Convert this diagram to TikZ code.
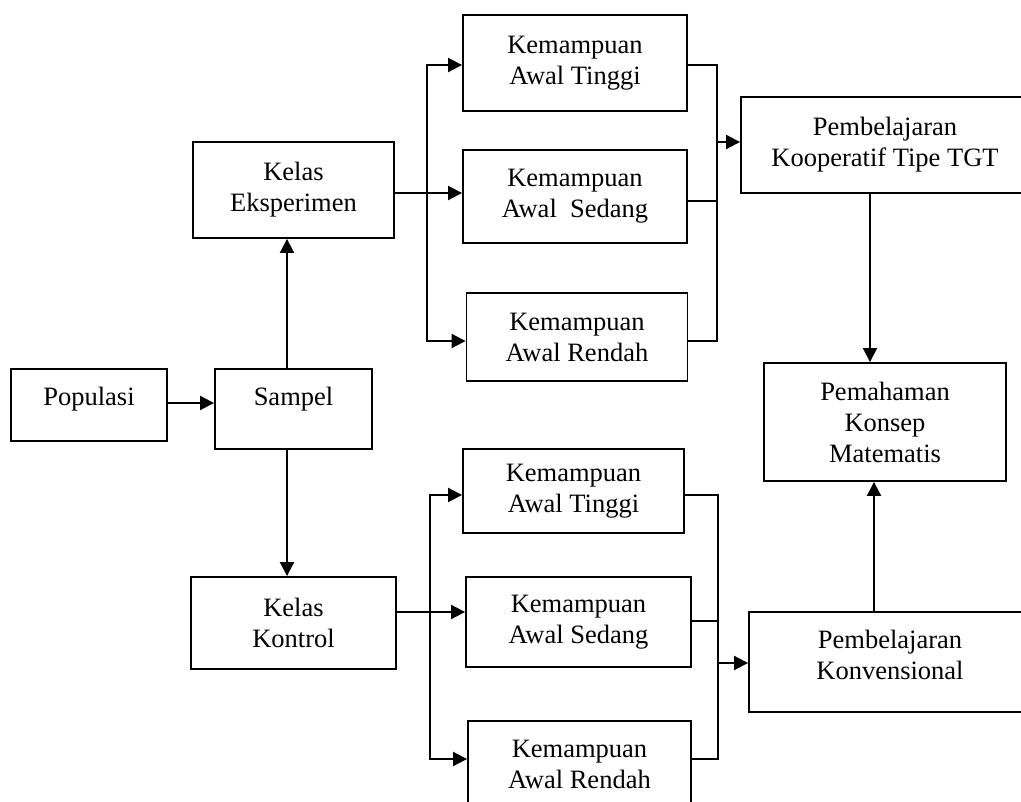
\documentclass[tikz,border=0pt]{standalone}
\usepackage{fontspec}
\setmainfont{Liberation Serif}
\usetikzlibrary{arrows.meta}
\begin{document}
\begin{tikzpicture}[x=1pt,y=-1pt,
  box/.style={draw, line width=1.9pt, align=center, inner sep=0pt, font=\fontsize{26.5}{31}\selectfont},
  conn/.style={line width=2pt},
  arr/.style={conn, -{Triangle[length=14pt,width=14pt]}},
  arrb/.style={conn, {Triangle[length=14pt,width=14pt]}-{Triangle[length=14pt,width=14pt]}}]
\useasboundingbox (0,0) rectangle (1021,802);
\clip (0,0) rectangle (1021,802);

% nodes
\node[box, minimum width=156pt, minimum height=72pt, text depth=18pt] (pop) at (89,405) {Populasi};
\node[box, minimum width=157pt, minimum height=80pt, text depth=26pt] (samp) at (293.5,409) {Sampel};
\node[box, minimum width=201pt, minimum height=96pt] (eks) at (293.5,190) {Kelas\\Eksperimen};
\node[box, minimum width=205pt, minimum height=92pt] (kon) at (293.5,623) {Kelas\\Kontrol};

\node[box, minimum width=224pt, minimum height=96pt] (katA) at (575,63) {Kemampuan\\Awal Tinggi};
\node[box, minimum width=224pt, minimum height=93pt] (kasA) at (575,196.5) {Kemampuan\\Awal\ \ Sedang};
\node[box, minimum width=221pt, minimum height=88pt] (karA) at (577,337) {Kemampuan\\Awal Rendah};

\node[box, minimum width=221pt, minimum height=84pt] (katB) at (573.5,491) {Kemampuan\\Awal Tinggi};
\node[box, minimum width=225pt, minimum height=90pt] (kasB) at (578.5,622) {Kemampuan\\Awal Sedang};
\node[box, minimum width=223pt, minimum height=86pt] (karB) at (579.5,764) {Kemampuan\\Awal Rendah};

\node[box, minimum width=288pt, minimum height=96pt] (tgt) at (885,145) {Pembelajaran\\Kooperatif Tipe TGT};
\node[box, minimum width=242pt, minimum height=118pt] (pem) at (885,422) {Pemahaman\\Konsep\\Matematis};
\node[box, minimum width=282pt, minimum height=100pt, text depth=14pt] (konv) at (890,662) {Pembelajaran\\Konvensional};

% left part
\draw[arr] ([yshift=2pt]pop.east) -- ([yshift=2pt]pop.east -| samp.west);
\draw[arr] ([xshift=-6.5pt]samp.north) -- ([xshift=-6.5pt]eks.south);
\draw[arr] ([xshift=-6.5pt]samp.south) -- ([xshift=-6.5pt]kon.north);

% top-left bracket
\coordinate (tl1) at (427,65);
\coordinate (tl2) at (427,341);
\draw[arrb] (tl1 -| katA.west) -- (tl1) -- (tl2) -- (tl2 -| karA.west);
\draw[arr] ([yshift=-3pt]eks.east) -- ([yshift=-3pt]eks.east -| kasA.west);

% top-right bracket
\coordinate (tr1) at (717,65);
\coordinate (tr2) at (717,341);
\coordinate (trm) at (717,201);
\coordinate (tra) at (717,142);
\draw[conn] (tr1 -| katA.east) -- (tr1) -- (tr2) -- (tr2 -| karA.east);
\draw[conn] (trm -| kasA.east) -- (trm);
\draw[arr] (tra) -- (tra -| tgt.west);

% bottom-left bracket
\coordinate (bl1) at (430,495);
\coordinate (bl2) at (430,759);
\draw[arrb] (bl1 -| katB.west) -- (bl1) -- (bl2) -- (bl2 -| karB.west);
\draw[arr] ([yshift=11pt]kon.east) -- ([yshift=11pt]kon.east -| kasB.west);

% bottom-right bracket
\coordinate (br1) at (718,495);
\coordinate (br2) at (718,759);
\coordinate (brm) at (718,621);
\coordinate (bra) at (718,663);
\draw[conn] (br1 -| katB.east) -- (br1) -- (br2) -- (br2 -| karB.east);
\draw[conn] (brm -| kasB.east) -- (brm);
\draw[arr] (bra) -- (bra -| konv.west);

% right column
\draw[arr] ([xshift=-15pt]tgt.south) -- ([xshift=-15pt]pem.north);
\draw[arr] ([xshift=-16pt]konv.north) -- ([xshift=-16pt]konv.north |- pem.south);
\end{tikzpicture}
\end{document}
